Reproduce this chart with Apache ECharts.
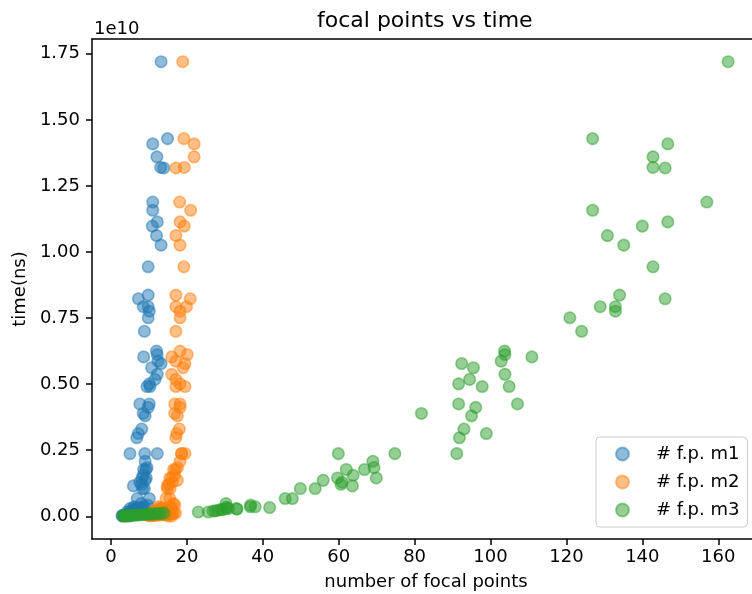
<!DOCTYPE html>
<html>
<head>
<meta charset="utf-8">
<script src="https://cdn.jsdelivr.net/npm/echarts@6/dist/echarts.min.js"></script>
<style>html,body{margin:0;padding:0;background:#fff}#c{width:752px;height:594px}</style>
</head>
<body>
<div id="c"></div>
<script>
// shared measured times, in units of 1e10 ns
const time_1e10ns = [
  1.72,1.429,1.409,1.36,1.32,1.318,1.189,1.158,1.114,1.098,1.062,1.026,0.944,0.837,0.823,0.793,0.793,0.776,0.751,0.70,
  0.625,0.612,0.603,0.587,0.578,0.562,0.537,0.518,0.501,0.491,0.491,
  0.425,0.425,0.412,0.389,0.38,0.33,0.313,0.297,
  0.237,0.237,0.237,0.208,0.184,0.177,0.177,0.155,0.145,0.145,0.129,0.121,0.136,0.115,0.105,0.105,0.067,0.067,0.033,0.036,0.036,
  0.029,0.048,0.029,0.016,0.016,0.02,0.023,0.025,0.035,0.027,0.042,0.02,0.025,0.03,
  0.012,0.011,0.010,0.010,0.009,0.008,0.008,0.007,0.006,0.006,0.005,0.005,0.004,0.004,0.003,0.003,0.002,0.002,0.001,0.001
];
// number of focal points per method
const fp_m1 = [
  13.2,14.9,11.0,12.1,13.1,13.9,11.0,11.0,12.2,10.9,12.0,13.2,9.8,9.8,7.2,8.5,9.8,10.1,9.8,8.8,
  12.0,12.2,8.6,12.4,13.2,10.7,12.2,11.6,10.1,9.5,10.3,
  7.6,10.1,9.8,8.5,9.0,8.1,7.2,6.8,
  5.0,8.9,12.2,9.0,9.5,8.6,9.2,8.5,9.3,8.2,7.6,8.0,9.0,5.9,8.3,8.8,6.9,10.1,7.0,8.5,6.0,
  5.0,8.0,6.0,4.2,4.8,5.5,6.4,7.3,9.0,6.8,9.6,5.2,7.6,8.4,
  9.5,8.8,8.2,7.6,7.0,6.5,6.0,5.6,5.2,4.8,4.4,4.1,3.8,3.5,3.3,3.1,2.9,3.4,4.0,5.0
];
const fp_m2 = [
  18.9,19.2,21.9,21.9,19.3,17.1,18.1,21.0,18.2,19.3,17.1,18.2,19.2,17.1,20.9,19.9,17.1,18.2,18.2,17.1,
  18.2,20.1,16.0,17.1,19.5,19.0,16.0,17.1,18.2,19.5,17.1,
  16.8,18.2,18.2,16.8,17.5,18.0,17.3,17.1,
  18.6,19.5,18.6,18.2,17.5,17.0,16.5,16.8,16.0,15.5,16.2,15.2,17.5,14.8,15.6,14.9,14.5,15.5,13.0,12.5,15.5,
  14.0,16.5,13.5,11.0,12.0,13.0,14.5,15.2,16.0,12.5,16.8,11.5,13.8,15.8,
  17.0,16.5,16.0,15.6,15.2,14.8,14.4,14.0,13.6,13.2,12.8,12.4,12.0,11.6,11.2,10.8,10.4,10.0,15.0,16.0
];
const fp_m3 = [
  162.6,126.9,146.7,142.8,142.8,146.0,157.0,126.9,146.7,140.0,130.8,135.1,142.8,134.0,146.0,128.9,132.9,132.9,120.9,124.0,
  103.7,103.8,110.9,102.8,92.4,95.5,103.8,94.5,91.6,97.8,104.9,
  91.6,107.1,96.1,81.8,95.0,93.0,98.9,91.8,
  91.1,74.8,59.9,69.0,69.3,66.8,62.0,63.8,69.9,59.7,60.9,60.6,55.9,63.6,53.8,49.9,47.8,45.9,41.8,38.0,36.7,
  33.1,30.3,30.4,23.0,25.6,26.9,28.2,29.5,30.4,33.2,36.8,27.5,29.0,31.0,
  14.0,13.2,12.5,11.8,11.0,10.4,9.8,9.1,8.5,7.9,7.3,6.8,6.2,5.7,5.2,4.8,4.3,3.9,3.5,3.1
];
const seriesNames = ['# f.p. m1', '# f.p. m2', '# f.p. m3'];
const seriesColors = ['#1f77b4', '#ff7f0e', '#2ca02c'];
const xTicks = [0, 20, 40, 60, 80, 100, 120, 140, 160];
const yTicks = [0, 0.25, 0.5, 0.75, 1.0, 1.25, 1.5, 1.75];

const FONT = 'DejaVu Sans';
const xs = [fp_m1, fp_m2, fp_m3];
const series = xs.map((xv, i) => ({
  name: seriesNames[i],
  type: 'scatter',
  symbol: 'circle',
  symbolSize: 11.5,
  data: xv.map((x, k) => [x, time_1e10ns[k]]),
  itemStyle: { color: seriesColors[i], opacity: 0.5, borderColor: seriesColors[i], borderWidth: 1.6 },
  emphasis: { disabled: true },
  animation: false
}));

const chart = echarts.init(document.getElementById('c'), null, { renderer: 'canvas' });
chart.setOption({
  animation: false,
  textStyle: { fontFamily: FONT },
  title: [
    { text: 'focal points vs time', left: 317, top: 10, padding: 0,
      textStyle: { fontFamily: FONT, fontSize: 22, fontWeight: 'normal', color: '#000' } },
    { text: '1e10', left: 94, top: 20, padding: 0,
      textStyle: { fontFamily: FONT, fontSize: 18, fontWeight: 'normal', color: '#000' } }
  ],
  grid: { left: 92, top: 39, width: 668, height: 500, containLabel: false, outerBoundsMode: 'none' },
  legend: {
    orient: 'vertical', left: 596, top: 437,
    padding: [7, 8, 7, 19], itemGap: 8,
    itemWidth: 35, itemHeight: 13, icon: 'circle',
    borderColor: '#cccccc', borderWidth: 1, borderRadius: 4,
    backgroundColor: 'rgba(255,255,255,0.8)',
    textStyle: { fontFamily: FONT, fontSize: 18, color: '#000', lineHeight: 20, padding: [0, 0, 0, 11] },
    data: seriesNames.map((n, i) => ({ name: n, itemStyle: { color: seriesColors[i], opacity: 0.5 } }))
  },
  xAxis: [{
    type: 'value', min: -5, max: 171, position: 'bottom',
    name: 'number of focal points', nameLocation: 'middle', nameGap: 34,
    nameTextStyle: { fontFamily: FONT, fontSize: 18, color: '#000' },
    axisLine: { show: true, onZero: false, lineStyle: { color: '#000', width: 1.5 } },
    axisTick: { show: true, length: 6, customValues: xTicks, lineStyle: { color: '#000', width: 1.5 } },
    axisLabel: { customValues: xTicks, margin: 9, fontFamily: FONT, fontSize: 18, color: '#000' },
    splitLine: { show: false }
  }, {
    type: 'value', min: -5, max: 171, position: 'top',
    axisLine: { show: true, onZero: false, lineStyle: { color: '#000', width: 1.5 } },
    axisTick: { show: false }, axisLabel: { show: false }, splitLine: { show: false }
  }],
  yAxis: [{
    type: 'value', min: -0.086, max: 1.806, position: 'left',
    name: 'time(ns)', nameLocation: 'middle', nameGap: 62,
    nameTextStyle: { fontFamily: FONT, fontSize: 18, color: '#000' },
    axisLine: { show: true, onZero: false, lineStyle: { color: '#000', width: 1.5 } },
    axisTick: { show: true, length: 6, customValues: yTicks, lineStyle: { color: '#000', width: 1.5 } },
    axisLabel: { customValues: yTicks, margin: 12, fontFamily: FONT, fontSize: 18, color: '#000',
      formatter: v => v.toFixed(2) },
    splitLine: { show: false }
  }],
  series: series
});
</script>
</body>
</html>
